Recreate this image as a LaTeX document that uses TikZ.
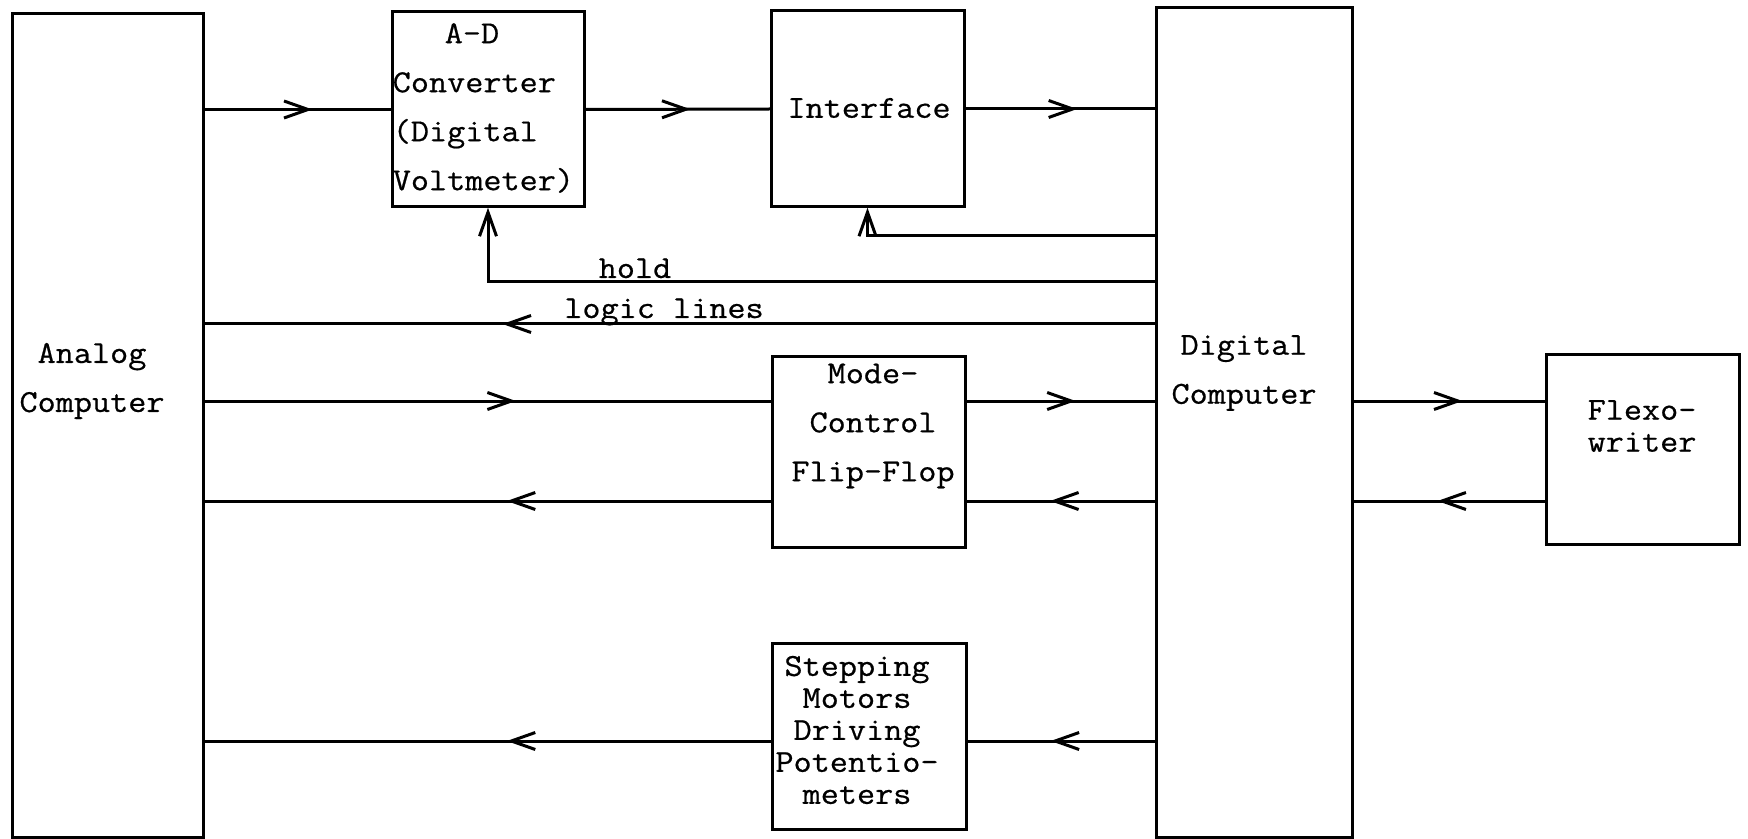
\documentclass[tikz,border=0pt]{standalone}
\usepackage{fontspec}
\setmonofont[FakeStretch=1.1, FakeBold=0.6]{Latin Modern Mono}
\usetikzlibrary{arrows.meta,decorations.markings}

\begin{document}
\begin{tikzpicture}[x=1pt, y=-1pt, scale=0.5,
  every node/.append style={transform shape},
  line width=1.5pt,
  blk/.style={draw, inner sep=0pt},
  txt/.style={inner sep=0pt, align=center, font=\fontsize{32}{49}\selectfont\ttfamily},
  tight/.style={font=\fontsize{32}{32}\selectfont\ttfamily},
  barb/.tip={Straight Barb[length=12pt, width=8.5pt, line width=1.5pt]},
  fwd/.style={postaction={decorate, decoration={markings,
      mark=at position #1 with {\arrow{barb}}}}}]

\useasboundingbox (0,0) rectangle (1748,839);

% Blocks
\node[blk, minimum width=191, minimum height=823] (analog) at (107.5,425.5) {};
\node[blk, minimum width=192, minimum height=195] (adc) at (488,109.5) {};
\node[blk, minimum width=193, minimum height=196] (iface) at (867.5,109) {};
\node[blk, minimum width=196, minimum height=829] (digital) at (1254,422.5) {};
\node[blk, minimum width=193, minimum height=191] (mode) at (868.5,451.5) {};
\node[blk, minimum width=194, minimum height=186] (stepper) at (869,736) {};
\node[blk, minimum width=193, minimum height=190] (flexo) at (1642.5,449) {};

% Block texts
\node[txt] (analog-t) at (92,381) {Analog\\Computer};
\node[txt, align=left, anchor=west] (adc-t) at (392,108) {\hspace*{52pt}A-D\\Converter\\(Digital\\Voltmeter)};
\node[txt] (iface-t) at (869,108) {Interface};
\node[txt] (digital-t) at (1244,373) {Digital\\Computer};
\node[txt] (mode-t) at (873,426) {Mode-\\Control\\Flip-Flop};
\node[txt, tight] (stepper-t) at (857,730) {Stepping\\Motors\\Driving\\Potentio-\\meters};
\node[txt, tight] (flexo-t) at (1642,426) {Flexo-\\writer};

% Line labels
\node[txt, anchor=base] (hold-t) at (635,278) {hold};
\node[txt, anchor=base] (logic-t) at (664,318) {logic lines};

% Signal rows
\coordinate (fb) at (0,236);
\coordinate (hd) at (0,282);
\coordinate (lg) at (0,324);
\coordinate (r1) at (0,401);
\coordinate (r2) at (0,501);
\coordinate (r3) at (0,741);

% Top chain
\draw[fwd=0.58] (analog.east |- adc.west) -- (adc.west);
\draw[fwd=0.57] (adc.east) -- (iface.west);
\draw[fwd=0.59] (iface.east) -- (iface.east -| digital.west);

% Feedback from digital
\draw[-barb] (digital.west |- fb) -| (iface.south);
\draw[-barb] (digital.west |- hd) -| (adc.south);
\draw[fwd=0.686] (digital.west |- lg) -- (analog.east |- lg);

% Mode control
\draw[fwd=0.55] (analog.east |- r1) -- (mode.west |- r1);
\draw[fwd=0.58] (mode.east |- r1) -- (digital.west |- r1);
\draw[fwd=0.555] (digital.west |- r2) -- (mode.east |- r2);
\draw[fwd=0.466] (mode.west |- r2) -- (analog.east |- r2);

% Stepping motors
\draw[fwd=0.555] (digital.west |- r3) -- (stepper.east |- r3);
\draw[fwd=0.466] (stepper.west |- r3) -- (analog.east |- r3);

% Flexowriter
\draw[fwd=0.57] (digital.east |- r1) -- (flexo.west |- r1);
\draw[fwd=0.56] (flexo.west |- r2) -- (digital.east |- r2);

\end{tikzpicture}
\end{document}
